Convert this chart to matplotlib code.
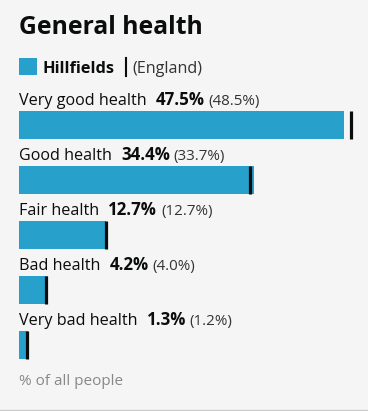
import matplotlib
matplotlib.use("Agg")
import matplotlib.pyplot as plt
import matplotlib.transforms as mtransforms

# data
categories = ["Very good health", "Good health", "Fair health", "Bad health", "Very bad health"]
area_values = [47.5, 34.4, 12.7, 4.2, 1.3]
england_values = [48.5, 33.7, 12.7, 4.0, 1.2]
area_name = "Hillfields"
compare_name = "England"

W, H = 368, 411
bar_color = "#27a0cc"
bg = "#f5f5f5"
plt.rcParams["font.family"] = ["Open Sans", "DejaVu Sans"]

fig = plt.figure(figsize=(W / 100, H / 100), dpi=100, facecolor=bg)


def px(x0, y0, x1, y1):
    # pixel box (top-left origin) -> figure fraction rect
    return [x0 / W, 1 - y1 / H, (x1 - x0) / W, (y1 - y0) / H]


ax = fig.add_axes(px(19, 97.5, 361, 372.5))
ax.set_facecolor(bg)
ax.set_xlim(0, 50)
ax.set_ylim(len(categories) - 0.5, -0.5)
ax.axis("off")

bar_h = 28 / 55
ys = list(range(len(categories)))
ax.barh(ys, area_values, height=bar_h, color=bar_color, linewidth=0)
ax.vlines(england_values, [y - bar_h / 2 for y in ys], [y + bar_h / 2 for y in ys],
          color="#0b0c0c", linewidth=2.3)

fig.canvas.draw()
renderer = fig.canvas.get_renderer()


def chain(ax_or_fig, x, y, parts, trans):
    # draw text pieces next to each other on one baseline
    dx = 0
    for s, kw, gap in parts:
        dx += gap
        t = ax_or_fig.text(x, y, s, transform=mtransforms.offset_copy(trans, fig=fig, x=dx, y=0, units="dots"),
                           va="baseline", ha="left", **kw)
        dx += t.get_window_extent(renderer).width
    return dx


for i, cat in enumerate(categories):
    yb = i - bar_h / 2 - 6.5 / 55
    chain(ax, 0, yb, [
        (cat, dict(fontsize=11.6, color="#0b0c0c"), 0),
        (f"{area_values[i]:.1f}%", dict(fontsize=12.2, color="#0b0c0c", fontweight="bold"), 9),
        (f"({england_values[i]:.1f}%)", dict(fontsize=10.9, color="#333333"), 4),
    ], ax.transData)

# title
fig.text(19 / W, 1 - 34 / H, "General health", fontsize=17.8, fontweight="bold", color="#0b0c0c",
         va="baseline", ha="left")

# legend
fig.patches.append(plt.Rectangle((19 / W, 1 - 75 / H), 18 / W, 17 / H, transform=fig.transFigure,
                                  color=bar_color, linewidth=0))
fig.text(42 / W, 1 - 73 / H, area_name, fontsize=11.8, fontweight="bold", color="#0b0c0c",
         va="baseline", ha="left")
fig.lines.append(plt.Line2D([126 / W, 126 / W], [1 - 58 / H, 1 - 76 / H], transform=fig.transFigure,
                            color="#0b0c0c", linewidth=1.5))
fig.text(132 / W, 1 - 73 / H, f"({compare_name})", fontsize=11.6, color="#333333",
         va="baseline", ha="left")

# caption
fig.text(19 / W, 1 - 385 / H, "% of all people", fontsize=11, color="#888888",
         va="baseline", ha="left")

# bottom rule
fig.lines.append(plt.Line2D([0, 1], [1 - 409.5 / H, 1 - 409.5 / H], transform=fig.transFigure,
                            color="#cccccc", linewidth=1))

fig.savefig("out.png", dpi=100, facecolor=bg)
